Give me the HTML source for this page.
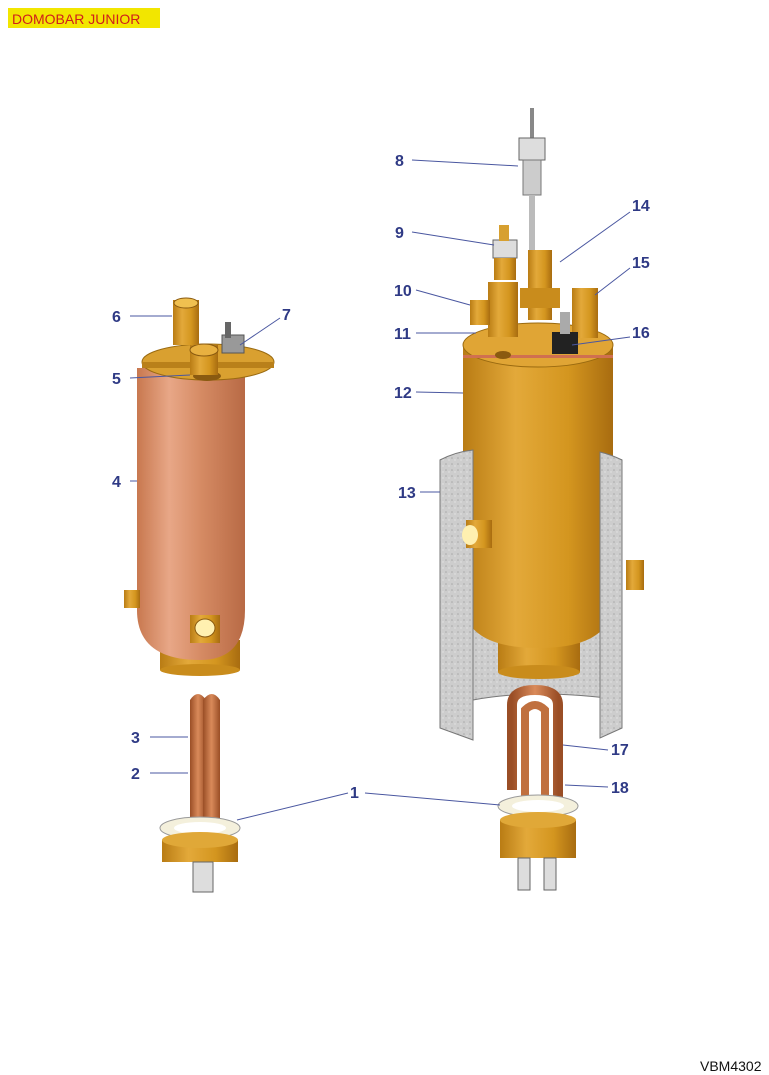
<!DOCTYPE html>
<html><head><meta charset="utf-8"><style>
body{margin:0;background:#fff;}
svg{display:block;}
text{font-family:"Liberation Sans",sans-serif;}
.n{fill:#2f3a85;font-weight:bold;font-size:16px;}
.l{stroke:#4a57a0;stroke-width:1;fill:none;}
</style></head><body>
<svg width="769" height="1075" viewBox="0 0 769 1075" xmlns="http://www.w3.org/2000/svg">
<defs>
<linearGradient id="cu" x1="0" x2="1"><stop offset="0" stop-color="#c8784f"/><stop offset=".3" stop-color="#e8a787"/><stop offset=".6" stop-color="#d58a63"/><stop offset="1" stop-color="#b86a45"/></linearGradient>
<linearGradient id="br" x1="0" x2="1"><stop offset="0" stop-color="#b97c14"/><stop offset=".35" stop-color="#e3a93a"/><stop offset=".7" stop-color="#d4961f"/><stop offset="1" stop-color="#a86c10"/></linearGradient>
<linearGradient id="el" x1="0" x2="1"><stop offset="0" stop-color="#9a4e26"/><stop offset=".5" stop-color="#d98a5a"/><stop offset="1" stop-color="#9a4e26"/></linearGradient>
<pattern id="ins" width="6" height="6" patternUnits="userSpaceOnUse"><rect width="6" height="6" fill="#cdcdcd"/><circle cx="2" cy="2" r=".8" fill="#a8a8a8"/><circle cx="5" cy="4" r=".7" fill="#e6e6e6"/></pattern>
</defs>
<rect x="8" y="8" width="152" height="20" fill="#f2e600"/>
<text x="12" y="24" font-size="14" fill="#d0201a">DOMOBAR JUNIOR</text>
<text x="700" y="1071" font-size="14" fill="#111">VBM4302</text>

<!-- LEFT boiler -->
<rect x="160" y="640" width="80" height="30" fill="url(#br)"/>
<ellipse cx="200" cy="670" rx="40" ry="6" fill="#c98c1c"/>
<path d="M137 368 L137 610 Q137 660 200 660 Q245 660 245 610 L245 368 Z" fill="url(#cu)"/>
<ellipse cx="208" cy="362" rx="66" ry="18" fill="#d9a030" stroke="#9a6a10"/>
<rect x="142" y="362" width="132" height="6" fill="#b9801a"/>
<ellipse cx="207" cy="376" rx="14" ry="5" fill="#8a5a10"/>
<rect x="190" y="345" width="28" height="30" fill="url(#br)"/>
<ellipse cx="204" cy="350" rx="14" ry="6" fill="#e8b040" stroke="#8a5a10"/>
<rect x="173" y="300" width="26" height="45" fill="url(#br)"/>
<ellipse cx="186" cy="303" rx="12" ry="5" fill="#f0c050" stroke="#8a5a10"/>
<rect x="222" y="335" width="22" height="18" fill="#999" stroke="#555"/>
<rect x="225" y="322" width="6" height="16" fill="#666"/>
<rect x="124" y="590" width="16" height="18" fill="url(#br)"/>
<rect x="190" y="615" width="30" height="28" fill="url(#br)"/>
<ellipse cx="205" cy="628" rx="10" ry="9" fill="#fff0b0" stroke="#8a5a10"/>

<!-- LEFT element -->
<path d="M190 700 Q198 688 206 700 L206 830 L190 830 Z" fill="url(#el)"/>
<path d="M203 700 Q212 688 220 700 L220 820 L203 820 Z" fill="url(#el)"/>
<ellipse cx="200" cy="828" rx="40" ry="11" fill="#f4f0dc" stroke="#999"/>
<ellipse cx="200" cy="828" rx="26" ry="6" fill="#fff"/>
<rect x="162" y="840" width="76" height="22" fill="url(#br)"/>
<ellipse cx="200" cy="840" rx="38" ry="8" fill="#e0a838"/>
<rect x="193" y="862" width="20" height="30" fill="#ddd" stroke="#666"/>

<!-- RIGHT insulation back -->
<path d="M440 460 Q531 425 622 460 L622 700 Q537 688 473 700 L440 700 Z" fill="url(#ins)" stroke="#777"/>
<!-- RIGHT boiler -->
<rect x="498" y="630" width="82" height="42" fill="url(#br)"/>
<ellipse cx="539" cy="672" rx="41" ry="7" fill="#c98c1c"/>
<rect x="498" y="640" width="82" height="3" fill="#d07050"/>
<path d="M463 345 L463 600 Q463 648 539 648 Q613 648 613 600 L613 345 Z" fill="url(#br)"/>
<ellipse cx="538" cy="345" rx="75" ry="22" fill="#e0a535" stroke="#9a6a10"/>
<rect x="463" y="355" width="150" height="3" fill="#d07050"/>
<!-- front strips -->
<path d="M440 460 Q455 452 473 450 L473 740 L440 728 Z" fill="url(#ins)" stroke="#777"/>
<path d="M600 452 Q612 455 622 460 L622 728 L600 738 Z" fill="url(#ins)" stroke="#777"/>
<rect x="466" y="520" width="26" height="28" fill="url(#br)"/>
<ellipse cx="470" cy="535" rx="8" ry="10" fill="#fff0b0"/>
<rect x="626" y="560" width="18" height="30" fill="url(#br)"/>
<!-- fittings -->
<rect x="530" y="108" width="4" height="30" fill="#888"/>
<rect x="519" y="138" width="26" height="22" fill="#ddd" stroke="#666"/>
<rect x="523" y="160" width="18" height="35" fill="#ccc" stroke="#777"/>
<rect x="529" y="195" width="6" height="60" fill="#bbb"/>
<rect x="493" y="240" width="24" height="18" fill="#ddd" stroke="#666"/>
<rect x="499" y="225" width="10" height="16" fill="#d7a030"/>
<rect x="494" y="258" width="22" height="22" fill="url(#br)"/>
<rect x="528" y="250" width="24" height="70" fill="url(#br)"/>
<rect x="520" y="288" width="40" height="20" fill="#c98c1c"/>
<rect x="488" y="282" width="30" height="55" fill="url(#br)"/>
<rect x="470" y="300" width="20" height="25" fill="url(#br)"/>
<rect x="572" y="288" width="26" height="50" fill="url(#br)"/>
<rect x="552" y="332" width="26" height="22" fill="#222"/>
<rect x="560" y="312" width="10" height="22" fill="#aaa"/>
<ellipse cx="503" cy="355" rx="8" ry="4" fill="#8a5a10"/>
<!-- right element -->
<path d="M512 790 L512 705 Q512 690 535 690 Q558 690 558 705 L558 800" fill="none" stroke="url(#el)" stroke-width="10"/>
<path d="M525 800 L525 710 Q535 700 545 710 L545 800" fill="none" stroke="#c0703f" stroke-width="8"/>
<ellipse cx="538" cy="806" rx="40" ry="11" fill="#f4f0dc" stroke="#999"/>
<ellipse cx="538" cy="806" rx="26" ry="6" fill="#fff"/>
<rect x="500" y="820" width="76" height="38" fill="url(#br)"/>
<ellipse cx="538" cy="820" rx="38" ry="8" fill="#e0a838"/>
<rect x="518" y="858" width="12" height="32" fill="#ddd" stroke="#666"/>
<rect x="544" y="858" width="12" height="32" fill="#ddd" stroke="#666"/>

<!-- leaders -->
<path class="l" d="M412 160 L518 166 M412 232 L494 245 M560 262 L630 212 M595 295 L630 268 M416 290 L470 305 M416 333 L476 333 M572 345 L630 337 M416 392 L463 393 M420 492 L440 492 M130 316 L172 316 M240 345 L280 318 M130 378 L190 375 M130 481 L137 481 M150 737 L188 737 M150 773 L188 773 M237 820 L348 793 M365 793 L500 805 M563 745 L608 750 M565 785 L608 787"/>
<text class="n" x="395" y="166">8</text>
<text class="n" x="395" y="238">9</text>
<text class="n" x="632" y="211">14</text>
<text class="n" x="632" y="268">15</text>
<text class="n" x="394" y="296">10</text>
<text class="n" x="394" y="339">11</text>
<text class="n" x="632" y="338">16</text>
<text class="n" x="394" y="398">12</text>
<text class="n" x="398" y="498">13</text>
<text class="n" x="112" y="322">6</text>
<text class="n" x="282" y="320">7</text>
<text class="n" x="112" y="384">5</text>
<text class="n" x="112" y="487">4</text>
<text class="n" x="131" y="743">3</text>
<text class="n" x="131" y="779">2</text>
<text class="n" x="350" y="798">1</text>
<text class="n" x="611" y="755">17</text>
<text class="n" x="611" y="793">18</text>
</svg>
</body></html>
